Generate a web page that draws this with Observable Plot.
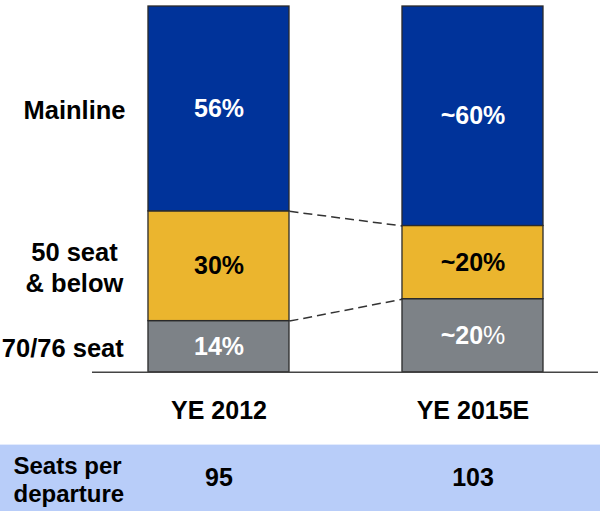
<!DOCTYPE html>
<html>
<head>
<meta charset="utf-8">
<script src="https://cdn.jsdelivr.net/npm/d3@7"></script>
<script src="https://cdn.jsdelivr.net/npm/@observablehq/plot@0.6"></script>
<style>
  html, body { margin: 0; padding: 0; background: #fff; }
</style>
</head>
<body>
<div id="chart"></div>
<script>
// ---- data ----
const years = ["YE 2012", "YE 2015E"];
const segments = ["70/76 seat", "50 seat\n& below", "Mainline"];
const share2012 = [14, 30, 56];
const share2015 = [20, 20, 60];
const labels2012 = ["14%", "30%", "56%"];
const labels2015 = ["~20%", "~20%", "~60%"];
const seatsPerDeparture = [95, 103];
const tableHeader = "Seats per\ndeparture";

// ---- styling ----
const segColors = ["#7d8287", "#ebb52e", "#00339a"];
const segTextColors = ["#ffffff", "#000000", "#ffffff"];
const halfBar = 0.2776;           // half bar width in x units (one unit = one category step)
const xDomain = [-0.8602, 1.5020];
const yDomain = [-38.05, 100];
const tableTop = -19.9;

// ---- derived table ----
const shares = [share2012, share2015];
const labels = [labels2012, labels2015];
const rows = [];
years.forEach((year, i) => {
  let acc = 0;
  shares[i].forEach((v, j) => {
    rows.push({year, i, j, seg: segments[j], value: v, label: labels[i][j], y1: acc, y2: acc + v, mid: acc + v / 2});
    acc += v;
  });
});
const boundaries = [0, 1].map(j => ({
  a: rows.find(r => r.i === 0 && r.j === j).y2,
  b: rows.find(r => r.i === 1 && r.j === j).y2
}));
const leftRows = rows.filter(r => r.i === 0);

const font = "'Liberation Sans', Arial, Helvetica, sans-serif";

const chart = Plot.plot({
  width: 600,
  height: 511,
  margin: 0,
  x: {type: "linear", domain: xDomain, range: [0, 600], axis: null},
  y: {type: "linear", domain: yDomain, range: [511, 6], axis: null},
  style: {fontFamily: font, fontWeight: "bold", background: "#fff", overflow: "visible"},
  marks: [
    // table band
    Plot.rect([0], {x1: xDomain[0], x2: xDomain[1], y1: yDomain[0], y2: tableTop, fill: "#b8cdf9"}),
    // stacked bars
    Plot.rect(rows, {
      x1: d => d.i - halfBar, x2: d => d.i + halfBar,
      y1: "y1", y2: "y2",
      fill: d => segColors[d.j], stroke: "#2a2a2a", strokeWidth: 1.3
    }),
    // baseline
    Plot.ruleY([0], {x1: -0.498, x2: 1.494, stroke: "#444", strokeWidth: 1.5}),
    // dashed connectors
    Plot.link(boundaries, {
      x1: 0 + halfBar, y1: "a", x2: 1 - halfBar, y2: "b",
      stroke: "#333", strokeWidth: 1.5, strokeDasharray: "9,5"
    }),
    // value labels
    Plot.text(rows, {
      x: "i", y: "mid", text: "label",
      fill: d => segTextColors[d.j], fontSize: 25, fontWeight: "bold",
      className: "val"
    }),
    // segment names at left
    Plot.text(leftRows, {
      x: d => d.j === 0 ? -0.615 : -0.569, y: "mid", text: "seg",
      fill: "#000", fontSize: 25.5, fontWeight: "bold", lineHeight: 1.24
    }),
    // category labels
    Plot.text(years, {
      x: (d, i) => i, y: -10.7, text: d => d,
      fill: "#000", fontSize: 25, fontWeight: "bold"
    }),
    // table header
    Plot.text([tableHeader], {
      x: -0.809, y: -29.2, text: d => d, textAnchor: "start",
      fill: "#000", fontSize: 24, fontWeight: "bold", lineHeight: 1.17
    }),
    // table values
    Plot.text(seatsPerDeparture, {
      x: (d, i) => i, y: -28.9, text: d => String(d),
      fill: "#000", fontSize: 25, fontWeight: "bold"
    })
  ]
});
// the reference sets the "%" of the grey 2015 label in regular weight
d3.select(chart).selectAll("g.val text").each(function(d, k) {
  const r = rows[d];
  if (r && r.i === 1 && r.j === 0) {
    const t = d3.select(this);
    const s = t.text();
    t.text(s.slice(0, -1));
    t.append("tspan").attr("font-weight", "normal").text("%");
  }
});
document.getElementById("chart").appendChild(chart);
</script>
</body>
</html>
